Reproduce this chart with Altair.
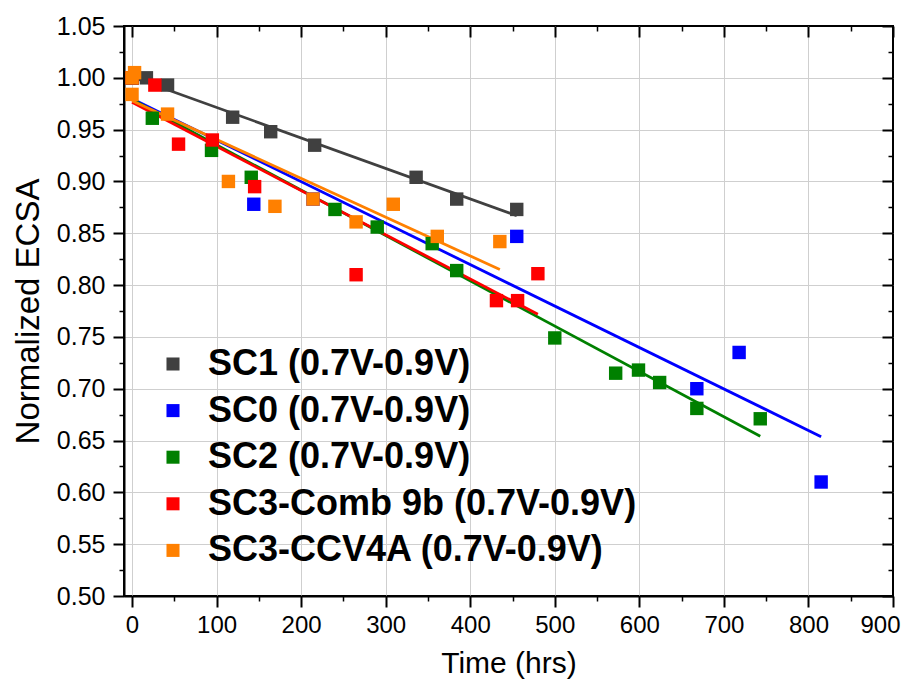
import altair as alt
import pandas as pd

# ---- data ----
series_names = ["SC1 (0.7V-0.9V)", "SC0 (0.7V-0.9V)", "SC2 (0.7V-0.9V)",
                "SC3-Comb 9b (0.7V-0.9V)", "SC3-CCV4A (0.7V-0.9V)"]
series_colors = ["#404040", "#0000ff", "#008000", "#ff0000", "#ff8000"]

sc1_x = [0, 17, 42, 119, 164, 216, 336, 384, 455]
sc1_y = [1.000, 1.000, 0.993, 0.962, 0.948, 0.935, 0.904, 0.883, 0.873]

sc0_x = [0, 144, 214, 455, 668, 718, 815]
sc0_y = [1.000, 0.878, 0.883, 0.847, 0.700, 0.735, 0.610]

sc2_x = [0, 24, 94, 141, 240, 290, 355, 384, 500, 572, 599, 624, 668, 743]
sc2_y = [1.000, 0.961, 0.930, 0.904, 0.873, 0.856, 0.840, 0.814, 0.749,
         0.715, 0.718, 0.706, 0.681, 0.671]

sc3a_x = [0, 27, 55, 95, 145, 265, 431, 456, 480]
sc3a_y = [1.000, 0.993, 0.936, 0.940, 0.895, 0.810, 0.785, 0.785, 0.811]

sc3b_x = [0, 3, 0, 42, 114, 169, 214, 265, 309, 361, 435]
sc3b_y = [1.000, 1.005, 0.984, 0.965, 0.900, 0.876, 0.883, 0.861, 0.878,
          0.847, 0.842]

x_major = [0, 100, 200, 300, 400, 500, 600, 700, 800, 900]
x_minor = [50, 150, 250, 350, 450, 550, 650, 750, 850]
x_grid = [0, 100, 200, 300, 400, 500, 600, 700, 800]
y_major = [0.50, 0.55, 0.60, 0.65, 0.70, 0.75, 0.80, 0.85, 0.90, 0.95, 1.00, 1.05]
y_minor = [0.525, 0.575, 0.625, 0.675, 0.725, 0.775, 0.825, 0.875, 0.925, 0.975, 1.025]
y_grid = [0.55, 0.60, 0.65, 0.70, 0.75, 0.80, 0.85, 0.90, 0.95, 1.00]

rows = []
idx = 0
for name, xs, ys in zip(series_names,
                        [sc1_x, sc0_x, sc2_x, sc3a_x, sc3b_x],
                        [sc1_y, sc0_y, sc2_y, sc3a_y, sc3b_y]):
    for xv, yv in zip(xs, ys):
        rows.append({"series": name, "time": xv, "ecsa": yv, "idx": idx})
        idx += 1
df = pd.DataFrame(rows)

FONT = "Liberation Sans"
xscale = alt.Scale(domain=[-9.5, 900], nice=False, zero=False)
yscale = alt.Scale(domain=[0.50, 1.05], nice=False, zero=False)
cscale = alt.Scale(domain=series_names, range=series_colors)

base = alt.Chart(df)

# grid layer
grid = base.mark_point(opacity=0).encode(
    x=alt.X("time:Q", scale=xscale, axis=alt.Axis(
        orient="bottom", values=x_grid, grid=True, gridColor="#cfcfcf", gridWidth=1,
        ticks=False, labels=False, domain=False, title=None)),
    y=alt.Y("ecsa:Q", scale=yscale, axis=alt.Axis(
        orient="left", values=y_grid, grid=True, gridColor="#cfcfcf", gridWidth=1,
        ticks=False, labels=False, domain=False, title=None)),
)

# regression lines with main labelled axes
lines = base.transform_regression(
    "time", "ecsa", groupby=["series"]
).mark_line(strokeWidth=2.8).encode(
    x=alt.X("time:Q", scale=xscale, axis=alt.Axis(
        orient="bottom", values=x_major, grid=False, domain=True, domainColor="black",
        domainWidth=2, ticks=True, tickColor="black", tickWidth=2, tickSize=11,
        labelFont=FONT, labelFontSize=24, labelColor="black", labelPadding=6,
        labelFlush=1, labelFlushOffset=7, labelOverlap=False,
        title="Time (hrs)", titleFont=FONT, titleFontSize=30, titleFontWeight="normal",
        titleColor="black", titlePadding=11)),
    y=alt.Y("ecsa:Q", scale=yscale, axis=alt.Axis(
        orient="left", values=y_major, format=".2f", grid=False, domain=True,
        domainColor="black", domainWidth=2, ticks=True, tickColor="black", tickWidth=2,
        tickSize=11, labelFont=FONT, labelFontSize=25, labelColor="black", labelPadding=8,
        labelFlush=False, labelOverlap=False,
        title="Normalized ECSA", titleFont=FONT, titleFontSize=33,
        titleFontWeight="normal", titleColor="black", titlePadding=11)),
    color=alt.Color("series:N", scale=cscale, legend=None),
)

# points with minor ticks on bottom / left
points = base.mark_point(shape="square", filled=True, size=180, opacity=1).encode(
    x=alt.X("time:Q", scale=xscale, axis=alt.Axis(
        orient="bottom", values=x_minor, grid=False, domain=False, labels=False,
        ticks=True, tickColor="black", tickWidth=1.5, tickSize=5, title=None)),
    y=alt.Y("ecsa:Q", scale=yscale, axis=alt.Axis(
        orient="left", values=y_minor, grid=False, domain=False, labels=False,
        ticks=True, tickColor="black", tickWidth=1.5, tickSize=5, title=None)),
    color=alt.Color("series:N", scale=cscale, legend=alt.Legend(
        title=None, orient="none", legendX=31, legendY=320, symbolType="square",
        symbolSize=170, symbolStrokeWidth=0, symbolOpacity=1, labelFont=FONT,
        labelFontSize=36, labelFontWeight="bold", labelColor="black", labelLimit=0,
        labelOffset=17, rowPadding=10.6, padding=0)),
    order=alt.Order("idx:Q"),
)

# inward major ticks on top / right
frame_major = base.mark_point(opacity=0).encode(
    x=alt.X("time:Q", scale=xscale, axis=alt.Axis(
        orient="top", values=x_major, offset=-11, grid=False, domain=False, labels=False,
        ticks=True, tickColor="black", tickWidth=2, tickSize=11, title=None)),
    y=alt.Y("ecsa:Q", scale=yscale, axis=alt.Axis(
        orient="right", values=y_major, offset=-11, grid=False, domain=False, labels=False,
        ticks=True, tickColor="black", tickWidth=2, tickSize=11, title=None)),
)

# inward minor ticks on top / right
frame_minor = base.mark_point(opacity=0).encode(
    x=alt.X("time:Q", scale=xscale, axis=alt.Axis(
        orient="top", values=x_minor, offset=-5, grid=False, domain=False, labels=False,
        ticks=True, tickColor="black", tickWidth=1.5, tickSize=5, title=None)),
    y=alt.Y("ecsa:Q", scale=yscale, axis=alt.Axis(
        orient="right", values=y_minor, offset=-5, grid=False, domain=False, labels=False,
        ticks=True, tickColor="black", tickWidth=1.5, tickSize=5, title=None)),
)

chart = alt.layer(grid, lines, points, frame_major, frame_minor).resolve_axis(
    x="independent", y="independent"
).resolve_legend(color="independent").properties(
    width=769, height=570,
    autosize=alt.AutoSizeParams(type="none"),
    padding={"left": 116, "top": 18, "right": 15, "bottom": 84},
    background="white",
).configure_view(stroke="black", strokeWidth=2)

chart.save("out.html", embed_options={"renderer": "svg", "actions": False})
